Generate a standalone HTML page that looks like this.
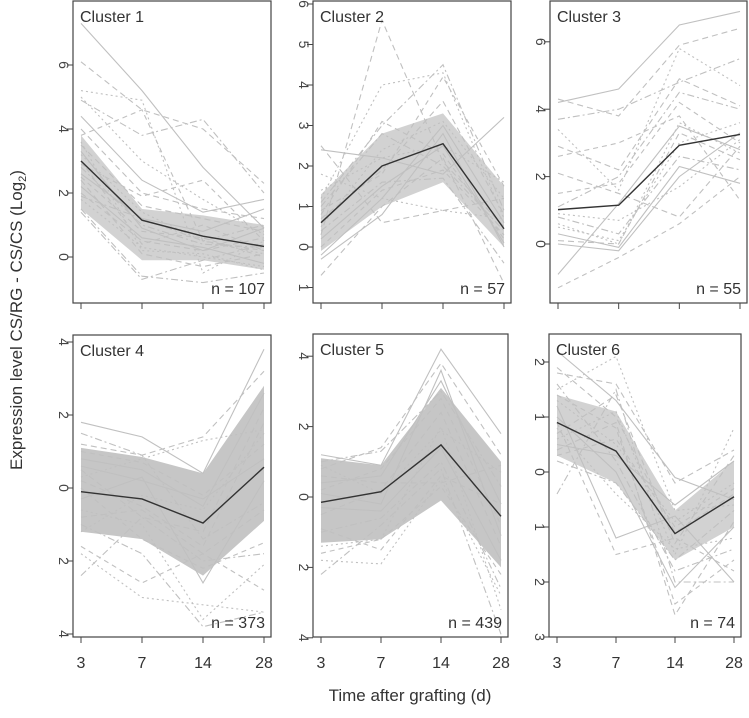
<!DOCTYPE html>
<html><head><meta charset="utf-8">
<style>
html,body{margin:0;padding:0;background:#fff;}
svg{display:block;font-family:"Liberation Sans",Arial,sans-serif;}
</style></head>
<body>
<svg id="chart" width="749" height="718" viewBox="0 0 749 718" xmlns="http://www.w3.org/2000/svg">
<text transform="translate(22,320) rotate(-90)" text-anchor="middle" font-size="17" fill="#333">Expression level CS/RG - CS/CS (Log<tspan font-size="11" dy="4">2</tspan><tspan dy="-4">)</tspan></text>
<text x="410" y="701" text-anchor="middle" font-size="17" fill="#333">Time after grafting (d)</text>
</svg>
<script>
const timeLabels = ["3","7","14","28"];
const clusterNames = ["Cluster 1","Cluster 2","Cluster 3","Cluster 4","Cluster 5","Cluster 6"];
const clusterCounts = [107,57,55,373,439,74];
const means = [
 [3.0,1.15,0.65,0.33],
 [0.6,2.0,2.55,0.45],
 [1.02,1.15,2.93,3.25],
 [-0.1,-0.3,-0.96,0.57],
 [-0.15,0.15,1.48,-0.55],
 [0.9,0.38,-1.12,-0.45]
];
const bandUpper = [[3.8,1.5,1.3,1.0],[1.3,2.8,3.3,1.5],null,[1.1,0.85,0.4,2.8],[1.1,0.9,3.1,1.0],[1.4,1.1,-0.7,0.2]];
const bandLower = [[1.5,-0.1,-0.1,-0.4],[-0.1,1.0,1.6,0.0],null,[-1.2,-1.4,-2.4,-0.9],[-1.3,-1.2,-0.1,-2.0],[0.3,-0.2,-1.6,-1.0]];
const profiles1 = [[7.3,5.2,2.8,0.9],[6.1,4.6,4.0,2.3],[5.2,4.9,-0.5,0.5],[4.9,3.8,4.3,2.0],[3.8,4.6,0.5,0.2],[4.4,2.4,1.4,1.8],[3.5,1.6,1.2,0.8],[3.2,1.4,0.5,0.1],[2.8,1.0,0.4,0.3],[2.5,0.8,0.6,0.0],[2.2,0.6,0.3,-0.2],[2.0,0.5,0.2,0.6],[1.8,0.3,0.0,-0.3],[1.5,-0.6,-0.8,-0.5],[3.0,0.4,1.0,0.2],[2.6,1.2,0.8,1.5],[4.0,2.0,1.5,1.2],[3.6,0.2,0.1,-0.4],[1.4,-0.7,-0.1,0.4],[2.9,1.9,2.4,0.5],[3.3,0.9,0.2,0.9],[2.4,0.1,-0.3,0.1],[5.0,3.0,1.8,0.7],[1.9,1.2,0.5,1.0]];
const profiles2 = [[2.4,2.2,1.8,3.2],[0.3,5.6,2.1,0.5],[1.8,1.2,0.9,0.7],[1.1,3.0,4.5,0.9],[0.9,1.8,4.2,1.5],[0.2,1.5,2.5,0.1],[-0.7,1.0,2.2,-0.9],[0.5,2.4,3.1,1.2],[1.0,2.8,2.0,0.4],[0.0,1.4,1.9,0.3],[-0.3,0.8,2.8,0.0],[0.7,1.9,3.6,0.8],[1.4,2.2,2.5,1.6],[0.4,1.6,1.7,-0.4],[0.8,3.1,2.3,0.2],[-0.2,1.2,3.0,0.6],[2.5,0.6,0.9,1.2],[1.2,4.0,4.3,0.7]];
const profiles3 = [[4.2,4.6,6.5,6.9],[4.3,3.8,5.9,6.4],[3.4,1.6,5.8,4.7],[3.7,4.0,4.8,5.5],[-1.3,-0.4,0.6,2.0],[-0.9,1.2,3.5,2.8],[0.1,0.0,3.3,2.5],[0.5,0.1,3.0,3.6],[0.8,0.3,2.6,2.2],[1.5,1.8,4.2,3.0],[0.0,-0.2,2.0,3.3],[2.1,1.5,0.8,2.9],[0.6,0.0,3.6,2.7],[1.1,2.0,4.5,4.0],[2.6,3.0,3.8,1.3],[0.3,-0.1,2.3,1.8],[2.9,2.2,4.9,4.1],[0.9,0.7,1.7,3.1]];
const profiles4 = [[1.8,1.4,0.4,3.8],[1.2,0.9,1.4,3.2],[-1.8,-3.0,-3.2,-3.4],[-2.4,-0.8,-2.0,-1.8],[-1.6,-2.6,-1.8,-2.8],[0.8,0.5,-0.5,2.6],[0.2,-0.5,-1.6,1.8],[-0.6,-1.0,-3.6,-2.1],[-1.0,-1.8,-3.8,-3.4],[1.0,0.7,-0.2,1.2],[-0.3,0.3,-2.6,0.2],[0.5,-0.8,-1.2,2.2],[-1.2,-0.2,-0.6,1.5],[1.5,0.9,-1.4,-0.4],[0.0,-1.4,-2.2,-1.5],[0.6,0.2,-0.3,0.8],[-0.8,-0.6,-1.8,-0.6],[0.3,0.8,1.3,1.6]];
const profiles5 = [[1.2,0.9,4.2,1.8],[0.8,1.4,3.8,1.2],[-1.8,-1.9,0.5,-2.8],[-2.2,-0.8,0.8,-3.9],[-1.6,-1.2,0.3,-2.2],[0.4,0.6,3.3,-0.2],[-0.5,0.2,2.4,-1.4],[0.9,0.1,1.9,0.7],[-1.0,-0.6,1.0,-2.6],[0.2,0.8,2.8,-0.8],[-0.3,-0.4,1.4,-1.8],[0.6,0.4,0.4,0.9],[-1.4,-1.2,2.0,-3.2],[1.0,1.3,3.0,0.3],[-0.9,-1.5,0.6,-0.2],[0.1,-0.2,3.6,-1.1]];
const profiles6 = [[2.2,1.3,-0.1,-0.5],[1.8,1.6,-0.2,0.4],[1.5,2.1,-0.7,-0.6],[-0.4,1.5,-2.0,-2.0],[0.9,-1.5,-1.2,-1.8],[1.2,-1.2,-0.8,-2.0],[0.4,0.9,-2.6,-0.9],[0.6,1.1,-1.5,0.8],[1.6,0.2,-1.8,-1.4],[0.3,0.6,-1.0,-0.3],[1.0,0.0,-2.1,-1.0],[0.7,1.4,-1.3,0.3],[1.3,0.5,-0.9,-0.2],[0.2,-0.2,-1.6,-0.7],[1.4,0.8,-2.4,-1.6],[0.5,0.3,-0.6,0.2],[1.9,1.0,-1.1,-0.4],[0.8,-0.4,-1.4,-1.2]];
const allProfiles = [profiles1,profiles2,profiles3,profiles4,profiles5,profiles6];
const yTicks = [[0,2,4,6],[-1,0,1,2,3,4,5,6],[0,2,4,6],[-4,-2,0,2,4],[-4,-2,0,2,4],[-3,-2,-1,0,1,2]];

const S = "http://www.w3.org/2000/svg";
const svg = document.getElementById('chart');
const geom = [
 {l:73,r:271,t:1,b:303,z:257,u:32},
 {l:313,r:511,t:1,b:303,z:247,u:40.5},
 {l:550,r:747,t:1,b:303,z:244,u:33.7},
 {l:73,r:271,t:335,b:637,z:488,u:36.5},
 {l:313,r:508,t:334,b:637,z:497,u:35.2},
 {l:549,r:741,t:334,b:637,z:472,u:55}
];
const dashes = ["","6,4","2,3","7,3,2,3","5,4"];
function mk(tag, attrs){const e=document.createElementNS(S,tag);for(const k in attrs)e.setAttribute(k,attrs[k]);return e;}
geom.forEach((g,p)=>{
  const xs = i => g.l+8 + i*(g.r-g.l-15)/3;
  const ys = v => g.z - v*g.u;
  const grp = mk('g',{});
  
  
  svg.appendChild(grp);
  const cp = mk('clipPath',{id:'cp'+p});
  cp.appendChild(mk('rect',{x:g.l,y:g.t,width:g.r-g.l,height:g.b-g.t}));
  grp.appendChild(cp);
  const inner = mk('g',{'clip-path':'url(#cp'+p+')'});
  grp.appendChild(inner);
  if(bandUpper[p]){
    let pts=[];
    bandUpper[p].forEach((v,i)=>pts.push(xs(i)+','+ys(v)));
    for(let i=3;i>=0;i--) pts.push(xs(i)+','+ys(bandLower[p][i]));
    const band = mk('polygon',{points:pts.join(' '),fill:(p===3||p===4)?'#c6c6c6':'#d2d2d2'});
    
    
    inner.appendChild(band);
  }
  allProfiles[p].forEach((prof,k)=>{
    const pl = mk('polyline',{points:prof.map((v,i)=>xs(i)+','+ys(v)).join(' '),fill:'none',stroke:'#c0c0c0','stroke-width':1.1});
    if(dashes[k%5]) pl.setAttribute('stroke-dasharray',dashes[k%5]);
    
    
    inner.appendChild(pl);
  });
  const ml = mk('polyline',{points:means[p].map((v,i)=>xs(i)+','+ys(v)).join(' '),fill:'none',stroke:'#333','stroke-width':1.4});
  
  
  inner.appendChild(ml);
  const fr = mk('rect',{x:g.l,y:g.t,width:g.r-g.l,height:g.b-g.t,fill:'none',stroke:'#444','stroke-width':1.2});
  
  
  grp.appendChild(fr);
  const t = mk('text',{x:g.l+7,y:g.t+21,'font-size':16,fill:'#333'});
  t.textContent = clusterNames[p];
  
  
  grp.appendChild(t);
  const n = mk('text',{x:g.r-6,y:g.b-9,'font-size':16,fill:'#333','text-anchor':'end'});
  n.textContent = 'n = '+clusterCounts[p];
  
  
  grp.appendChild(n);
  yTicks[p].forEach(v=>{
    const y = ys(v);
    if(y<g.t-6||y>g.b+6) return;
    grp.appendChild(mk('line',{x1:g.l-6,x2:g.l,y1:y,y2:y,stroke:'#444','stroke-width':1}));
    const lb = mk('text',{transform:'translate('+(g.l-14)+','+y+') rotate(90)','font-size':14,fill:'#444','text-anchor':'middle'});
    lb.textContent = Math.abs(v);
    
    
    grp.appendChild(lb);
  });
  timeLabels.forEach((tl,i)=>{
    grp.appendChild(mk('line',{x1:xs(i),x2:xs(i),y1:g.b,y2:g.b+6,stroke:'#444','stroke-width':1}));
    if(p>=3){
      const lb = mk('text',{x:xs(i),y:g.b+31,'font-size':16,fill:'#333','text-anchor':'middle'});
      lb.textContent = tl;
      
      
      grp.appendChild(lb);
    }
  });
});
</script>
</body></html>
